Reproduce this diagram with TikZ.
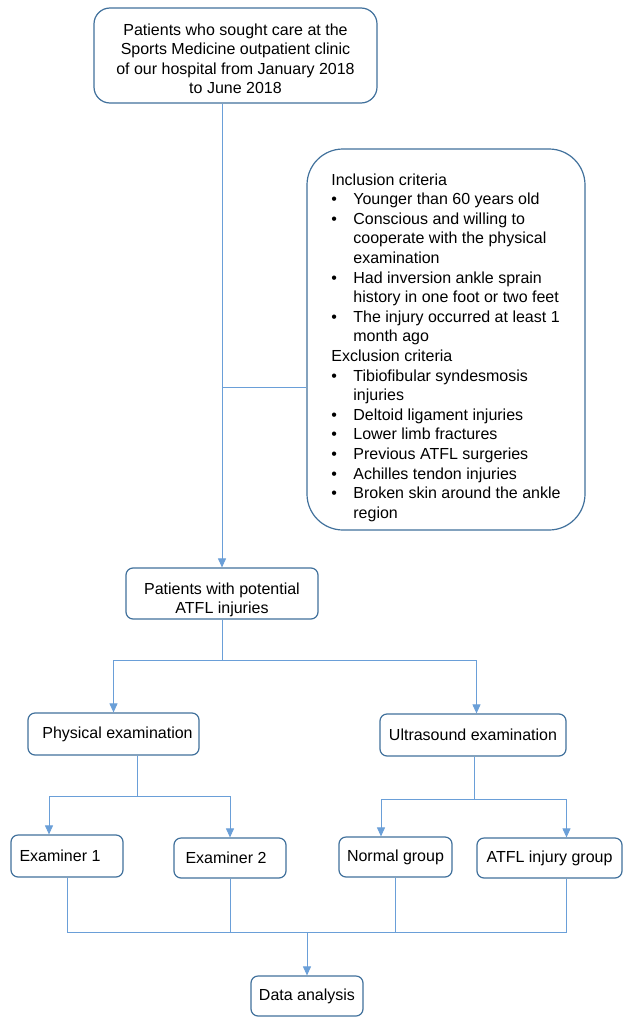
\documentclass[tikz,border=0pt]{standalone}
\usepackage{fontspec}
\setmainfont{Liberation Sans}
\usetikzlibrary{arrows.meta}
\definecolor{boxblue}{HTML}{41719C}
\definecolor{lineblue}{HTML}{6A9FD8}
\newcommand{\critbul}{\makebox[22pt][l]{\textbullet}}
\tikzset{
  box/.style={draw=boxblue, line width=1.2pt, rounded corners=7pt, fill=white,
    inner sep=0pt, align=center, text=black, font=\fontsize{16}{19.3}\selectfont},
  ln/.style={draw=lineblue, line width=0.9pt},
  arr/.style={ln, -{Triangle[width=8pt,length=9pt]}},
}
\begin{document}
\begin{tikzpicture}[x=1pt,y=-1pt]
\path[fill=white, use as bounding box] (0,0) rectangle (623,1017);

% boxes
\node[box, rounded corners=16pt, minimum width=283pt, text height=27.5pt, text depth=67.5pt]
  (top) at (235.5,55.5)
  {\begin{tabular}[t]{@{}c@{}}Patients who sought care at the\\Sports Medicine outpatient clinic\\of our hospital from January 2018\\to June 2018\end{tabular}};

\node[box, rounded corners=36pt, minimum width=278pt, text height=36pt, text depth=345pt,
  font=\fontsize{16}{19.6}\selectfont]
  (crit) at (446,339.5)
  {\begin{tabular}[t]{@{}l@{}l@{}}
  \multicolumn{2}{@{}l@{}}{Inclusion criteria}\\
  \critbul & Younger than 60 years old\\
  \critbul & Conscious and willing to\\
           & cooperate with the physical\\
           & examination\\
  \critbul & Had inversion ankle sprain\\
           & history in one foot or two feet\\
  \critbul & The injury occurred at least 1\\
           & month ago\\
  \multicolumn{2}{@{}l@{}}{Exclusion criteria}\\
  \critbul & Tibiofibular syndesmosis\\
           & injuries\\
  \critbul & Deltoid ligament injuries\\
  \critbul & Lower limb fractures\\
  \critbul & Previous ATFL surgeries\\
  \critbul & Achilles tendon injuries\\
  \critbul & Broken skin around the ankle\\
           & region
  \end{tabular}};

\node[box, minimum width=192pt, text height=26pt, text depth=25pt]
  (pot) at (222,593.5)
  {\begin{tabular}[t]{@{}c@{}}Patients with potential\\ATFL injuries\end{tabular}};

\node[box, minimum width=171pt, minimum height=42pt] (phys) at (113.5,734) {\hspace*{8pt}Physical examination};
\node[box, minimum width=186pt, minimum height=42pt] (us) at (473,735) {Ultrasound examination};
\node[box, minimum width=112pt, minimum height=42pt] (e1) at (67,856) {\hspace*{-14pt}Examiner 1};
\node[box, minimum width=112pt, minimum height=40pt] (e2) at (230,858) {\hspace*{-8pt}Examiner 2};
\node[box, minimum width=113pt, minimum height=40pt] (norm) at (395.5,857) {Normal group};
\node[box, minimum width=145pt, minimum height=40pt] (atfl) at (549.5,858) {ATFL injury group};
\node[box, minimum width=112pt, minimum height=40pt] (data) at (307,996) {Data analysis};

% connectors
\draw[arr] (top.south -| pot.north) -- (pot.north);
\coordinate (j0) at (222,387);
\draw[ln] (j0) -- (j0 -| crit.west);

\coordinate (j1) at (222,660);
\draw[ln] (pot.south) -- (j1);
\draw[arr] (j1) -| (phys.north);
\draw[arr] (j1) -| ([xshift=3.5pt]us.north);

\coordinate (j2) at (137,796);
\draw[ln] (phys.south -| j2) -- (j2);
\draw[arr] (j2) -| ([xshift=-18pt]e1.north);
\draw[arr] (j2) -| (e2.north);

\coordinate (j3) at (474,799);
\draw[ln] (us.south -| j3) -- (j3);
\draw[arr] (j3) -| ([xshift=-14.5pt]norm.north);
\draw[arr] (j3) -| ([xshift=17pt]atfl.north);

\coordinate (j4) at (307,932);
\draw[ln] (e1.south) |- (j4);
\draw[ln] (e2.south) -- (e2.south |- j4);
\draw[ln] (norm.south) -- (norm.south |- j4);
\draw[ln] ([xshift=17pt]atfl.south) |- (j4);
\draw[arr] (j4) -- (data.north);
\end{tikzpicture}
\end{document}
